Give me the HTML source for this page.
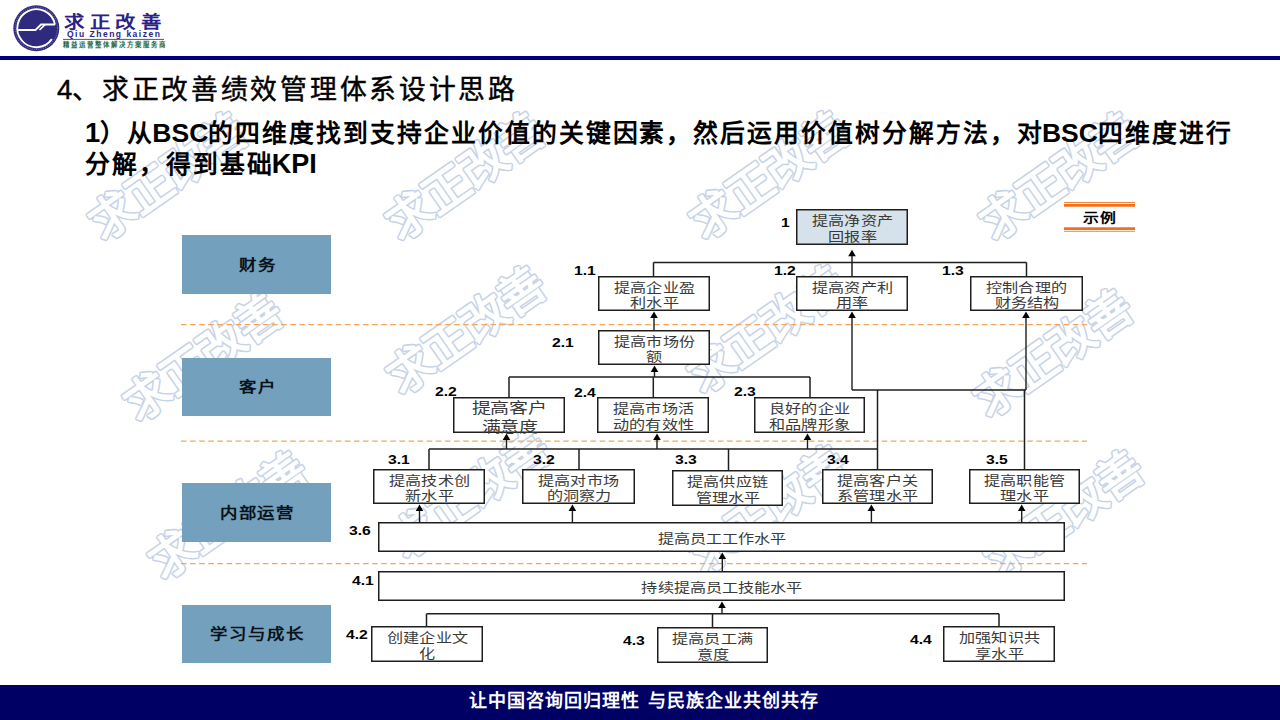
<!DOCTYPE html>
<html lang="zh-CN"><head><meta charset="utf-8"><style>
*{margin:0;padding:0;box-sizing:border-box}
html,body{width:1280px;height:720px;overflow:hidden;background:#fff}
body{position:relative;font-family:"Liberation Sans",sans-serif;text-spacing-trim:space-all}
.a{position:absolute}
.wm{position:absolute;font-family:"Liberation Sans",sans-serif;font-weight:900;font-size:46px;line-height:46px;color:#fff;-webkit-text-stroke:3px #c8d6ea;paint-order:stroke fill;white-space:nowrap;letter-spacing:-1px;transform-origin:center center}
.box{position:absolute;display:flex;flex-direction:column;align-items:center;justify-content:center;font-family:"Liberation Serif",serif;font-weight:400;color:#3a3a3a;white-space:nowrap}
.box span{display:block;transform:scaleX(1.24);transform-origin:center}
.lab{position:absolute;font-family:"Liberation Sans",sans-serif;font-weight:bold;font-size:13.2px;line-height:13px;color:#000;transform:scaleX(1.19);transform-origin:left top;white-space:nowrap}
.cat{position:absolute;background:#72a0bd;display:flex;align-items:center;justify-content:center;font-family:"Liberation Serif",serif;font-weight:bold;font-size:14.5px;color:#0a121a;padding-bottom:3px}
.cat span{display:block;transform:scaleX(1.2);letter-spacing:1.7px;margin-right:-1.7px}
</style></head><body>

<svg class="a" style="left:0;top:0" width="1280" height="720" viewBox="0 0 1280 720">
<text x="168" y="193" text-anchor="middle" transform="rotate(-35 168 177)" font-family="Liberation Sans, sans-serif" font-weight="900" font-size="46" letter-spacing="-1" fill="#fff" stroke="#c6d2e7" stroke-width="3.1" stroke-linejoin="round" paint-order="stroke fill">求正改善</text>
<text x="465" y="193" text-anchor="middle" transform="rotate(-35 465 177)" font-family="Liberation Sans, sans-serif" font-weight="900" font-size="46" letter-spacing="-1" fill="#fff" stroke="#c6d2e7" stroke-width="3.1" stroke-linejoin="round" paint-order="stroke fill">求正改善</text>
<text x="769" y="192" text-anchor="middle" transform="rotate(-35 769 176)" font-family="Liberation Sans, sans-serif" font-weight="900" font-size="46" letter-spacing="-1" fill="#fff" stroke="#c6d2e7" stroke-width="3.1" stroke-linejoin="round" paint-order="stroke fill">求正改善</text>
<text x="1059" y="193" text-anchor="middle" transform="rotate(-35 1059 177)" font-family="Liberation Sans, sans-serif" font-weight="900" font-size="46" letter-spacing="-1" fill="#fff" stroke="#c6d2e7" stroke-width="3.1" stroke-linejoin="round" paint-order="stroke fill">求正改善</text>
<text x="203" y="374" text-anchor="middle" transform="rotate(-35 203 358)" font-family="Liberation Sans, sans-serif" font-weight="900" font-size="46" letter-spacing="-1" fill="#fff" stroke="#c6d2e7" stroke-width="3.1" stroke-linejoin="round" paint-order="stroke fill">求正改善</text>
<text x="466" y="347" text-anchor="middle" transform="rotate(-35 466 331)" font-family="Liberation Sans, sans-serif" font-weight="900" font-size="46" letter-spacing="-1" fill="#fff" stroke="#c6d2e7" stroke-width="3.1" stroke-linejoin="round" paint-order="stroke fill">求正改善</text>
<text x="767" y="346" text-anchor="middle" transform="rotate(-35 767 330)" font-family="Liberation Sans, sans-serif" font-weight="900" font-size="46" letter-spacing="-1" fill="#fff" stroke="#c6d2e7" stroke-width="3.1" stroke-linejoin="round" paint-order="stroke fill">求正改善</text>
<text x="1053" y="370" text-anchor="middle" transform="rotate(-35 1053 354)" font-family="Liberation Sans, sans-serif" font-weight="900" font-size="46" letter-spacing="-1" fill="#fff" stroke="#c6d2e7" stroke-width="3.1" stroke-linejoin="round" paint-order="stroke fill">求正改善</text>
<text x="228" y="532" text-anchor="middle" transform="rotate(-35 228 516)" font-family="Liberation Sans, sans-serif" font-weight="900" font-size="46" letter-spacing="-1" fill="#fff" stroke="#c6d2e7" stroke-width="3.1" stroke-linejoin="round" paint-order="stroke fill">求正改善</text>
<text x="470" y="511" text-anchor="middle" transform="rotate(-35 470 495)" font-family="Liberation Sans, sans-serif" font-weight="900" font-size="46" letter-spacing="-1" fill="#fff" stroke="#c6d2e7" stroke-width="3.1" stroke-linejoin="round" paint-order="stroke fill">求正改善</text>
<text x="768" y="526" text-anchor="middle" transform="rotate(-35 768 510)" font-family="Liberation Sans, sans-serif" font-weight="900" font-size="46" letter-spacing="-1" fill="#fff" stroke="#c6d2e7" stroke-width="3.1" stroke-linejoin="round" paint-order="stroke fill">求正改善</text>
<text x="1064" y="531" text-anchor="middle" transform="rotate(-35 1064 515)" font-family="Liberation Sans, sans-serif" font-weight="900" font-size="46" letter-spacing="-1" fill="#fff" stroke="#c6d2e7" stroke-width="3.1" stroke-linejoin="round" paint-order="stroke fill">求正改善</text>
</svg>
<svg class="a" style="left:0;top:0" width="180" height="56" viewBox="0 0 180 56">
<circle cx="36.3" cy="28.2" r="23" fill="#2f2a7e"/>
<circle cx="36.3" cy="28.2" r="21.2" fill="none" stroke="#8a86c0" stroke-width="1.2" stroke-dasharray="1 1.3" opacity="0.7"/>
<path d="M54.95 24.57 A19 19 0 1 0 51.86 39.1" fill="none" stroke="#fff" stroke-width="1.9"/>
<path d="M54.95 24.57 L41 24.57 L35.5 30 L17.4 30" fill="none" stroke="#fff" stroke-width="1.9"/>
<path d="M45 24.57 L39.5 30" fill="none" stroke="#fff" stroke-width="1.6"/>
<line x1="63" y1="39.4" x2="164" y2="39.4" stroke="#2f6e50" stroke-width="1"/>
</svg>
<div class="a" style="left:64.2px;top:11.5px;font:bold 17.3px/20px 'Liberation Sans',sans-serif;color:#2b2283;letter-spacing:4.75px;white-space:nowrap;transform:scaleX(1.18);transform-origin:left top">求正改善</div>
<div class="a" style="left:67px;top:29px;font:bold 8.5px/10px 'Liberation Sans',sans-serif;color:#2b2283;letter-spacing:1.5px;white-space:nowrap">Qiu Zheng kaizen</div>
<div class="a" style="left:63.2px;top:40.6px;font:bold 6.4px/8px 'Liberation Sans',sans-serif;color:#1d6a45;letter-spacing:2.0px;white-space:nowrap">精益运营整体解决方案服务商</div>
<div class="a" style="left:0;top:56px;width:1280px;height:4px;background:#00007e"></div>

<div class="a" style="left:57px;top:72px;font-size:26.8px;font-weight:400;line-height:36px;color:#000;letter-spacing:2.7px;white-space:nowrap;-webkit-text-stroke:0.45px #000"><span style="font-size:27.5px;letter-spacing:0;font-weight:400">4</span>、求正改善绩效管理体系设计思路</div>
<div class="a" style="left:85px;top:116.8px;font-weight:bold;font-size:24.8px;line-height:31.3px;color:#000;letter-spacing:1.95px;white-space:nowrap"><span style="font-size:27.4px;letter-spacing:0">1</span>）从<span style="font-size:26.5px;letter-spacing:0;margin-left:-1.8px">BSC</span>的四维度找到支持企业价值的关键因素，然后运用价值树分解方法，对<span style="font-size:26.5px;letter-spacing:0;margin-left:-1.8px">BSC</span>四维度进行<br>分解，得到基础<span style="font-size:27px;letter-spacing:0;margin-left:-1.8px">KPI</span></div>

<svg class="a" style="left:0;top:0" width="1280" height="720" viewBox="0 0 1280 720">
<line x1="181" y1="324.6" x2="1087" y2="324.6" stroke="#f2a75a" stroke-width="1.4" stroke-dasharray="5.6 3.5"/>
<line x1="181" y1="441.1" x2="1087" y2="441.1" stroke="#f2a75a" stroke-width="1.4" stroke-dasharray="5.6 3.5"/>
<line x1="181" y1="563.6" x2="1087" y2="563.6" stroke="#f2a75a" stroke-width="1.4" stroke-dasharray="5.6 3.5"/>
<line x1="653.5" y1="262.5" x2="1026.5" y2="262.5" stroke="#1e1e1e" stroke-width="1.5"/>
<line x1="653.5" y1="262.5" x2="653.5" y2="276" stroke="#1e1e1e" stroke-width="1.5"/>
<line x1="852" y1="262.5" x2="852" y2="276" stroke="#1e1e1e" stroke-width="1.5"/>
<line x1="1026.5" y1="262.5" x2="1026.5" y2="276" stroke="#1e1e1e" stroke-width="1.5"/>
<line x1="509" y1="377" x2="810" y2="377" stroke="#1e1e1e" stroke-width="1.5"/>
<line x1="509" y1="377" x2="509" y2="397" stroke="#1e1e1e" stroke-width="1.5"/>
<line x1="653.3" y1="377" x2="653.3" y2="397" stroke="#1e1e1e" stroke-width="1.5"/>
<line x1="810" y1="377" x2="810" y2="397" stroke="#1e1e1e" stroke-width="1.5"/>
<line x1="852" y1="390" x2="1026" y2="390" stroke="#1e1e1e" stroke-width="1.5"/>
<line x1="877.5" y1="390" x2="877.5" y2="469" stroke="#1e1e1e" stroke-width="1.5"/>
<line x1="1024.5" y1="390" x2="1024.5" y2="469" stroke="#1e1e1e" stroke-width="1.5"/>
<line x1="429" y1="449" x2="877.5" y2="449" stroke="#1e1e1e" stroke-width="1.5"/>
<line x1="429" y1="449" x2="429" y2="469" stroke="#1e1e1e" stroke-width="1.5"/>
<line x1="579" y1="449" x2="579" y2="469" stroke="#1e1e1e" stroke-width="1.5"/>
<line x1="728.5" y1="449" x2="728.5" y2="470" stroke="#1e1e1e" stroke-width="1.5"/>
<line x1="426.5" y1="613.8" x2="999" y2="613.8" stroke="#1e1e1e" stroke-width="1.5"/>
<line x1="426.5" y1="613.8" x2="426.5" y2="626" stroke="#1e1e1e" stroke-width="1.5"/>
<line x1="712.5" y1="613.8" x2="712.5" y2="627" stroke="#1e1e1e" stroke-width="1.5"/>
<line x1="999" y1="613.8" x2="999" y2="626" stroke="#1e1e1e" stroke-width="1.5"/>
<line x1="852" y1="262.5" x2="852" y2="254.7" stroke="#1e1e1e" stroke-width="1.4"/>
<path d="M852 249.7 L855.8 256.2 L848.2 256.2 Z" fill="#000"/>
<line x1="654" y1="330" x2="654" y2="316.5" stroke="#1e1e1e" stroke-width="1.4"/>
<path d="M654 311.5 L657.8 318.0 L650.2 318.0 Z" fill="#000"/>
<line x1="654.5" y1="377" x2="654.5" y2="370.5" stroke="#1e1e1e" stroke-width="1.4"/>
<path d="M654.5 365.5 L658.3 372.0 L650.7 372.0 Z" fill="#000"/>
<line x1="852" y1="390" x2="852" y2="316.5" stroke="#1e1e1e" stroke-width="1.4"/>
<path d="M852 311.5 L855.8 318.0 L848.2 318.0 Z" fill="#000"/>
<line x1="1026" y1="390" x2="1026" y2="316.5" stroke="#1e1e1e" stroke-width="1.4"/>
<path d="M1026 311.5 L1029.8 318.0 L1022.2 318.0 Z" fill="#000"/>
<line x1="506.5" y1="449" x2="506.5" y2="438.5" stroke="#1e1e1e" stroke-width="1.4"/>
<path d="M506.5 433.5 L510.3 440.0 L502.7 440.0 Z" fill="#000"/>
<line x1="657" y1="449" x2="657" y2="438.5" stroke="#1e1e1e" stroke-width="1.4"/>
<path d="M657 433.5 L660.8 440.0 L653.2 440.0 Z" fill="#000"/>
<line x1="807.5" y1="449" x2="807.5" y2="438.5" stroke="#1e1e1e" stroke-width="1.4"/>
<path d="M807.5 433.5 L811.3 440.0 L803.7 440.0 Z" fill="#000"/>
<line x1="419.5" y1="522" x2="419.5" y2="509.5" stroke="#1e1e1e" stroke-width="1.4"/>
<path d="M419.5 504.5 L423.3 511.0 L415.7 511.0 Z" fill="#000"/>
<line x1="572.4" y1="522" x2="572.4" y2="509.5" stroke="#1e1e1e" stroke-width="1.4"/>
<path d="M572.4 504.5 L576.1999999999999 511.0 L568.6 511.0 Z" fill="#000"/>
<line x1="871.4" y1="522" x2="871.4" y2="509.5" stroke="#1e1e1e" stroke-width="1.4"/>
<path d="M871.4 504.5 L875.1999999999999 511.0 L867.6 511.0 Z" fill="#000"/>
<line x1="1021.7" y1="522" x2="1021.7" y2="509.5" stroke="#1e1e1e" stroke-width="1.4"/>
<path d="M1021.7 504.5 L1025.5 511.0 L1017.9000000000001 511.0 Z" fill="#000"/>
<line x1="722.3" y1="571" x2="722.3" y2="557.5" stroke="#1e1e1e" stroke-width="1.4"/>
<path d="M722.3 552.5 L726.0999999999999 559.0 L718.5 559.0 Z" fill="#000"/>
<line x1="722" y1="613.8" x2="722" y2="606.5" stroke="#1e1e1e" stroke-width="1.4"/>
<path d="M722 601.5 L725.8 608.0 L718.2 608.0 Z" fill="#000"/>
<rect x="796.75" y="209.75" width="110.5" height="34.5" fill="#d6e2eb" stroke="#1e1e1e" stroke-width="1.5"/>
<rect x="598.75" y="276.75" width="110.5" height="33.5" fill="#fff" stroke="#1e1e1e" stroke-width="1.5"/>
<rect x="796.75" y="276.75" width="110.5" height="33.5" fill="#fff" stroke="#1e1e1e" stroke-width="1.5"/>
<rect x="970.75" y="276.75" width="111.5" height="33.5" fill="#fff" stroke="#1e1e1e" stroke-width="1.5"/>
<rect x="598.75" y="330.75" width="110.5" height="33.5" fill="#fff" stroke="#1e1e1e" stroke-width="1.5"/>
<rect x="453.75" y="397.75" width="110.5" height="34.5" fill="#fff" stroke="#1e1e1e" stroke-width="1.5"/>
<rect x="597.75" y="397.75" width="110.5" height="34.5" fill="#fff" stroke="#1e1e1e" stroke-width="1.5"/>
<rect x="754.75" y="397.75" width="109.5" height="34.5" fill="#fff" stroke="#1e1e1e" stroke-width="1.5"/>
<rect x="373.75" y="469.75" width="110.5" height="33.5" fill="#fff" stroke="#1e1e1e" stroke-width="1.5"/>
<rect x="522.75" y="469.75" width="111.5" height="33.5" fill="#fff" stroke="#1e1e1e" stroke-width="1.5"/>
<rect x="672.75" y="470.75" width="109.5" height="34.5" fill="#fff" stroke="#1e1e1e" stroke-width="1.5"/>
<rect x="822.75" y="469.75" width="109.5" height="33.5" fill="#fff" stroke="#1e1e1e" stroke-width="1.5"/>
<rect x="969.75" y="469.75" width="109.5" height="33.5" fill="#fff" stroke="#1e1e1e" stroke-width="1.5"/>
<rect x="378.75" y="522.75" width="685.5" height="28.5" fill="#fff" stroke="#1e1e1e" stroke-width="1.5"/>
<rect x="378.75" y="571.75" width="685.5" height="28.5" fill="#fff" stroke="#1e1e1e" stroke-width="1.5"/>
<rect x="371.75" y="626.75" width="110.5" height="34.5" fill="#fff" stroke="#1e1e1e" stroke-width="1.5"/>
<rect x="657.75" y="627.75" width="109.5" height="34.5" fill="#fff" stroke="#1e1e1e" stroke-width="1.5"/>
<rect x="943.75" y="626.75" width="110.5" height="34.5" fill="#fff" stroke="#1e1e1e" stroke-width="1.5"/>
<line x1="1064" y1="202.5" x2="1135" y2="202.5" stroke="#f08a3c" stroke-width="1"/>
<line x1="1064" y1="205.3" x2="1135" y2="205.3" stroke="#f07020" stroke-width="2.8"/>
<line x1="1064" y1="228.6" x2="1135" y2="228.6" stroke="#f07020" stroke-width="2.8"/>
<line x1="1064" y1="231.3" x2="1135" y2="231.3" stroke="#f08a3c" stroke-width="1"/>
</svg>
<div class="a" style="left:1064px;top:209px;width:71px;text-align:center;font-weight:bold;font-size:12.7px;line-height:18px;color:#000;transform:scaleX(1.25)">示例</div>
<div class="box" style="left:796px;top:210.8px;width:112px;height:36px;font-size:13px;line-height:15.8px"><span>提高净资产</span><span>回报率</span></div>
<div class="box" style="left:598px;top:277.8px;width:112px;height:35px;font-size:13px;line-height:15.8px"><span>提高企业盈</span><span>利水平</span></div>
<div class="box" style="left:796px;top:277.8px;width:112px;height:35px;font-size:13px;line-height:15.8px"><span>提高资产利</span><span>用率</span></div>
<div class="box" style="left:970px;top:277.8px;width:113px;height:35px;font-size:13px;line-height:15.8px"><span>控制合理的</span><span>财务结构</span></div>
<div class="box" style="left:598px;top:331.8px;width:112px;height:35px;font-size:13px;line-height:15.8px"><span>提高市场份</span><span>额</span></div>
<div class="box" style="left:453px;top:398.8px;width:112px;height:36px;font-size:15.3px;line-height:19.3px"><span>提高客户</span><span>满意度</span></div>
<div class="box" style="left:597px;top:398.8px;width:112px;height:36px;font-size:13px;line-height:15.8px"><span>提高市场活</span><span>动的有效性</span></div>
<div class="box" style="left:754px;top:398.8px;width:111px;height:36px;font-size:13px;line-height:15.8px"><span>良好的企业</span><span>和品牌形象</span></div>
<div class="box" style="left:373px;top:470.8px;width:112px;height:35px;font-size:13px;line-height:15.8px"><span>提高技术创</span><span>新水平</span></div>
<div class="box" style="left:522px;top:470.8px;width:113px;height:35px;font-size:13px;line-height:15.8px"><span>提高对市场</span><span>的洞察力</span></div>
<div class="box" style="left:672px;top:471.8px;width:111px;height:36px;font-size:13px;line-height:15.8px"><span>提高供应链</span><span>管理水平</span></div>
<div class="box" style="left:822px;top:470.8px;width:111px;height:35px;font-size:13px;line-height:15.8px"><span>提高客户关</span><span>系管理水平</span></div>
<div class="box" style="left:969px;top:470.8px;width:111px;height:35px;font-size:13px;line-height:15.8px"><span>提高职能管</span><span>理水平</span></div>
<div class="box" style="left:378px;top:523.8px;width:687px;height:30px;font-size:13px;line-height:15.8px"><span>提高员工工作水平</span></div>
<div class="box" style="left:378px;top:572.8px;width:687px;height:30px;font-size:13px;line-height:15.8px"><span>持续提高员工技能水平</span></div>
<div class="box" style="left:371px;top:627.8px;width:112px;height:36px;font-size:13px;line-height:15.8px"><span>创建企业文</span><span>化</span></div>
<div class="box" style="left:657px;top:628.8px;width:111px;height:36px;font-size:13px;line-height:15.8px"><span>提高员工满</span><span>意度</span></div>
<div class="box" style="left:943px;top:627.8px;width:112px;height:36px;font-size:13px;line-height:15.8px"><span>加强知识共</span><span>享水平</span></div>
<div class="lab" style="left:781.1px;top:216.0px">1</div>
<div class="lab" style="left:573.5px;top:263.7px">1.1</div>
<div class="lab" style="left:774.1px;top:263.7px">1.2</div>
<div class="lab" style="left:942.1px;top:263.7px">1.3</div>
<div class="lab" style="left:551.8000000000001px;top:336.4px">2.1</div>
<div class="lab" style="left:435.1px;top:385.4px">2.2</div>
<div class="lab" style="left:573.6px;top:385.9px">2.4</div>
<div class="lab" style="left:733.7px;top:385.4px">2.3</div>
<div class="lab" style="left:388.1px;top:453.2px">3.1</div>
<div class="lab" style="left:533.3000000000001px;top:453.2px">3.2</div>
<div class="lab" style="left:674.8000000000001px;top:453.2px">3.3</div>
<div class="lab" style="left:826.5px;top:453.2px">3.4</div>
<div class="lab" style="left:986.1px;top:453.0px">3.5</div>
<div class="lab" style="left:349.1px;top:524.0px">3.6</div>
<div class="lab" style="left:352.3px;top:573.6999999999999px">4.1</div>
<div class="lab" style="left:346.40000000000003px;top:628.4px">4.2</div>
<div class="lab" style="left:622.7px;top:633.6px">4.3</div>
<div class="lab" style="left:910.4px;top:632.9px">4.4</div>
<div class="cat" style="left:182px;top:235px;width:149px;height:59px"><span>财务</span></div>
<div class="cat" style="left:182px;top:358px;width:149px;height:58px"><span>客户</span></div>
<div class="cat" style="left:182px;top:483px;width:149px;height:59px"><span>内部运营</span></div>
<div class="cat" style="left:182px;top:605px;width:149px;height:58px"><span>学习与成长</span></div>
<div class="a" style="left:0;top:685px;width:1280px;height:35px;background:#000064"></div>
<div class="a" style="left:469px;top:688.7px;font-weight:bold;font-size:18px;line-height:24px;color:#fff;letter-spacing:1px;white-space:nowrap">让中国咨询回归理性<span style="letter-spacing:3.2px"> </span>与民族企业共创共存</div>

</body></html>
